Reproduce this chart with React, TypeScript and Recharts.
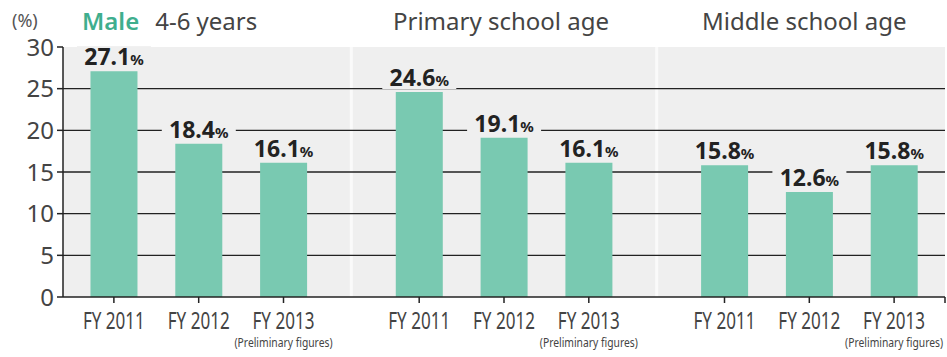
import { Bar, BarChart, CartesianGrid, LabelList, XAxis, YAxis } from "recharts";

const years = ["FY 2011", "FY 2012", "FY 2013"];
const male46 = [27.1, 18.4, 16.1];
const primary = [24.6, 19.1, 16.1];
const middle = [15.8, 12.6, 15.8];
const yTicks = [0, 5, 10, 15, 20, 25, 30];
const gridValues = [5, 10, 15, 20, 25];
const noteText = "(Preliminary figures)";

const GROUP_STEP = 3.6;
const EDGE = 0.6;
const BG = "#efefef";
const BAR = "#79c9b1";
const FONT = "'Noto Sans', sans-serif";

const data = [male46, primary, middle].flatMap((vals, g) =>
  vals.map((v, i) => ({ pos: g * GROUP_STEP + i, value: v, year: years[i], note: i === 2 }))
);
const xMax = GROUP_STEP * 2 + 2 + EDGE;
const xTicks = [...data.map((d) => d.pos), xMax];
const separators = [1, 2].map((g) => g * GROUP_STEP - (GROUP_STEP - 2) / 2);

function XTick(props: any) {
  const { x, y, payload } = props;
  const d = data.find((p) => Math.abs(p.pos - payload.value) < 1e-6);
  if (!d) return null;
  return (
    <g>
      <text
        x={x}
        y={y + 24}
        textAnchor="middle"
        fontSize={24}
        fill="#444"
        fontFamily={FONT}
        textLength={62}
        lengthAdjust="spacingAndGlyphs"
      >
        {d.year}
      </text>
      {d.note && (
        <text
          x={x}
          y={y + 42}
          textAnchor="middle"
          fontSize={12}
          fill="#444"
          fontFamily={FONT}
          textLength={98}
          lengthAdjust="spacingAndGlyphs"
        >
          {noteText}
        </text>
      )}
    </g>
  );
}

function ValueLabel(props: any) {
  const { x, y, width, value } = props;
  const cx = x + width / 2;
  const base = y - 6;
  return (
    <g>
      <rect x={cx - 37} y={base - 19} width={74} height={22} fill={BG} />
      <text x={cx} y={base} textAnchor="middle" fill="#222" fontFamily={FONT} fontWeight={700}>
        <tspan fontSize={23}>{Number(value).toFixed(1)}</tspan>
        <tspan fontSize={15}>%</tspan>
      </text>
    </g>
  );
}

const titleStyle: React.CSSProperties = {
  position: "absolute",
  top: 6,
  fontFamily: FONT,
  fontSize: 24,
  color: "#444",
  whiteSpace: "nowrap",
  lineHeight: "30px",
};

export default function App() {
  return (
    <div style={{ position: "absolute", left: 0, top: 0, width: 947, height: 357, background: "#fff" }}>
      <BarChart width={947} height={357} data={data} margin={{ top: 47, right: 2, left: 0, bottom: 0 }}>
        <CartesianGrid
          fill={BG}
          horizontal={false}
          verticalValues={separators}
          stroke="#fafafa"
          strokeWidth={3}
        />
        <CartesianGrid vertical={false} horizontalValues={gridValues} stroke="#222" strokeWidth={1.3} />
        <XAxis
          type="number"
          dataKey="pos"
          domain={[-EDGE, xMax]}
          ticks={xTicks}
          interval={0}
          height={60}
          tick={<XTick />}
          tickSize={6}
          stroke="#222"
          axisLine={{ stroke: "#222", strokeWidth: 1.5 }}
          tickLine={{ stroke: "#222", strokeWidth: 1.5 }}
          allowDataOverflow
        />
        <YAxis
          domain={[0, 30]}
          ticks={yTicks}
          interval={0}
          width={63}
          tickSize={6}
          tickMargin={3}
          stroke="#222"
          axisLine={{ stroke: "#222", strokeWidth: 1.5 }}
          tickLine={{ stroke: "#222", strokeWidth: 1.5 }}
          tick={{ fontSize: 24, fill: "#444", fontFamily: FONT }}
        />
        <Bar dataKey="value" fill={BAR} barSize={47} isAnimationActive={false}>
          <LabelList dataKey="value" content={<ValueLabel />} />
        </Bar>
      </BarChart>
      <div style={{ position: "absolute", left: 12, top: 8, fontFamily: FONT, fontSize: 18, color: "#555" }}>
        (%)
      </div>
      <div style={{ ...titleStyle, left: 82 }}>
        <span style={{ color: "#3fae8e", fontWeight: 600 }}>Male</span>
        <span style={{ marginLeft: 16 }}>4-6 years</span>
      </div>
      <div style={{ ...titleStyle, left: 393 }}>Primary school age</div>
      <div style={{ ...titleStyle, left: 702 }}>Middle school age</div>
    </div>
  );
}
